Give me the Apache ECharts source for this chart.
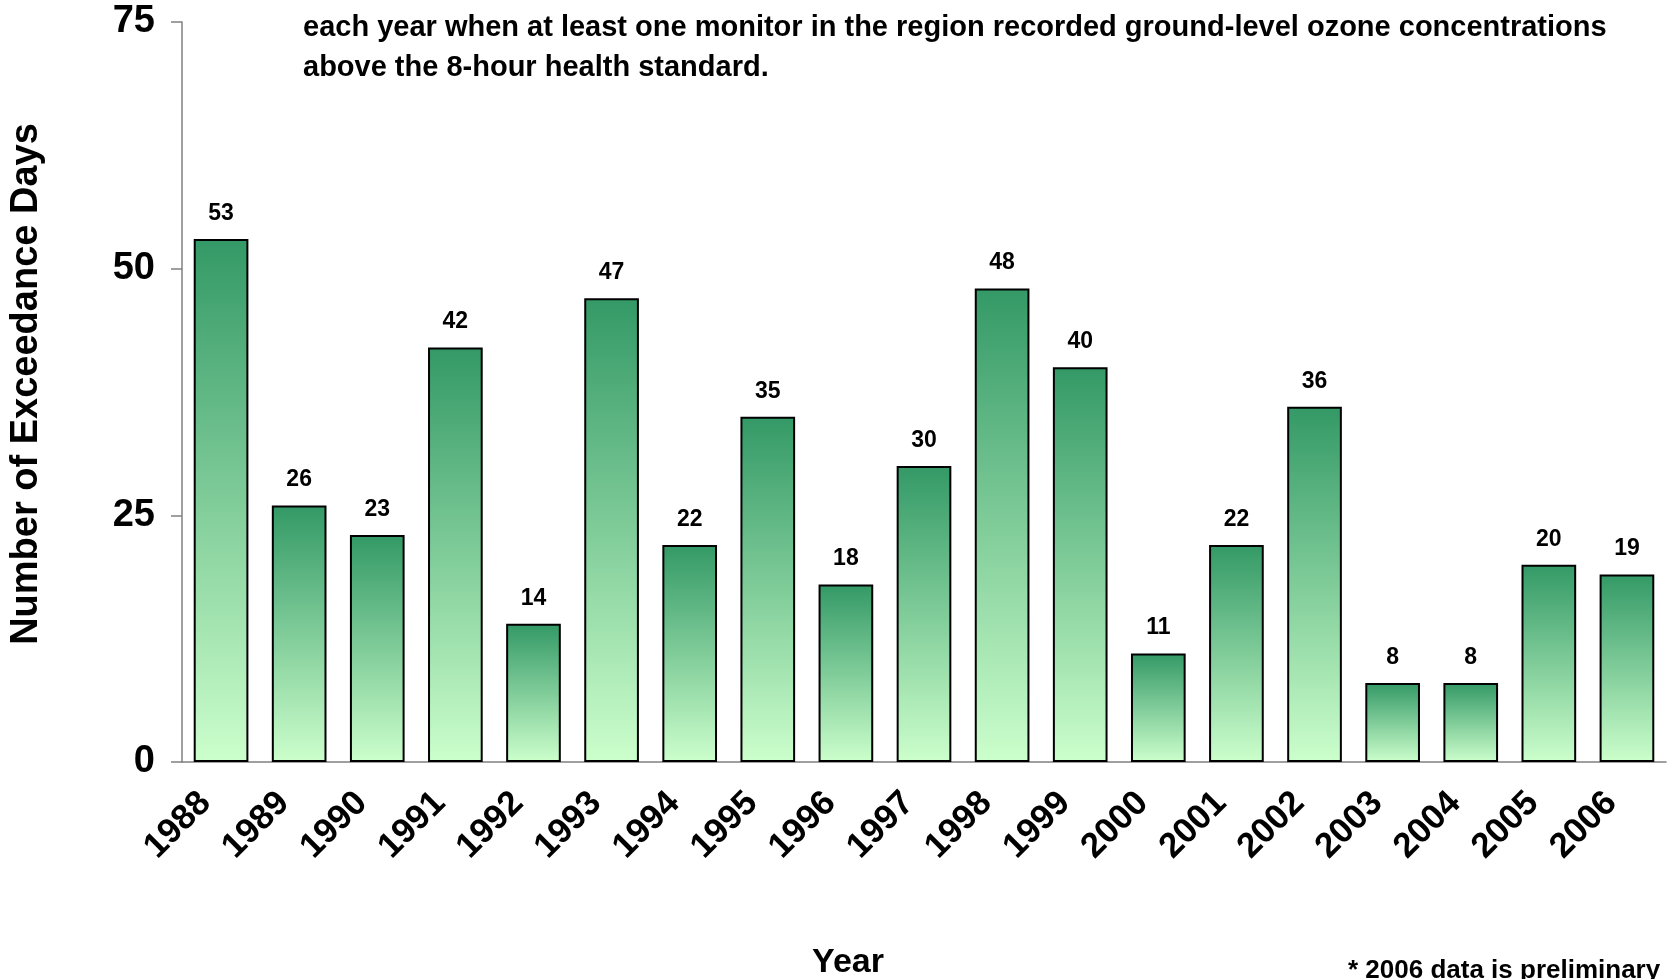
<!DOCTYPE html>
<html>
<head>
<meta charset="utf-8">
<script src="https://cdn.jsdelivr.net/npm/echarts@6/dist/echarts.min.js"></script>
<style>
html,body{margin:0;padding:0;background:#fff;}
#chart{width:1667px;height:979px;}
</style>
</head>
<body>
<div id="chart"></div>
<script>
const years = ['1988','1989','1990','1991','1992','1993','1994','1995','1996','1997','1998','1999','2000','2001','2002','2003','2004','2005','2006'];
const exceedanceDays = [53,26,23,42,14,47,22,35,18,30,48,40,11,22,36,8,8,20,19];
const yTicks = [0,25,50,75];
const titleLines = ['each year when at least one monitor in the region recorded ground-level ozone concentrations','above the 8-hour health standard.'];
const footnote = '* 2006 data is preliminary';

const FONT = '"Liberation Sans", Arial, Helvetica, sans-serif';
const chart = echarts.init(document.getElementById('chart'), null, {renderer:'canvas'});
chart.setOption({
  backgroundColor:'#ffffff',
  animation:false,
  title:{
    text: titleLines.join('\n'),
    left:303, top:8, padding:0,
    textStyle:{fontFamily:FONT, fontWeight:'bold', fontSize:29, lineHeight:40, color:'#000'}
  },
  grid:{left:182, right:1, top:22, bottom:217, containLabel:false, outerBoundsMode:'none'},
  xAxis:{
    type:'category',
    data: years,
    name:'Year',
    nameLocation:'middle',
    nameGap:184,
    nameTextStyle:{fontFamily:FONT, fontWeight:'bold', fontSize:34, color:'#000', padding:[0,152,0,0]},
    axisLine:{show:true, lineStyle:{color:'#808080', width:1.5}},
    axisTick:{show:false},
    axisLabel:{rotate:45, margin:20, padding:[0,22,0,0], fontFamily:FONT, fontWeight:'bold', fontSize:35, color:'#000', interval:0}
  },
  yAxis:{
    type:'value',
    min:yTicks[0], max:yTicks[yTicks.length-1], interval:25,
    name:'Number of Exceedance Days',
    nameLocation:'middle',
    nameGap:136,
    nameTextStyle:{fontFamily:FONT, fontWeight:'bold', fontSize:38, color:'#000', padding:[0,0,0,16]},
    axisLine:{show:true, lineStyle:{color:'#808080', width:1.5}},
    axisTick:{show:true, length:11, lineStyle:{color:'#808080', width:1.5}},
    axisLabel:{margin:27, fontFamily:FONT, fontWeight:'bold', fontSize:38, color:'#000'},
    splitLine:{show:false}
  },
  series:[{
    type:'bar',
    data: exceedanceDays,
    barWidth:'70%',
    itemStyle:{
      color:new echarts.graphic.LinearGradient(0,0,0,1,[
        {offset:0, color:'#339966'},
        {offset:1, color:'#ccffcc'}
      ]),
      borderColor:'#000', borderWidth:2
    },
    label:{show:true, position:'top', distance:14, fontFamily:FONT, fontWeight:'bold', fontSize:23, color:'#000'}
  }],
  graphic:[{
    type:'text', left:1348, top:958,
    style:{text:footnote, font:'bold 26px ' + FONT, fill:'#000'}
  }]
});
</script>
</body>
</html>
